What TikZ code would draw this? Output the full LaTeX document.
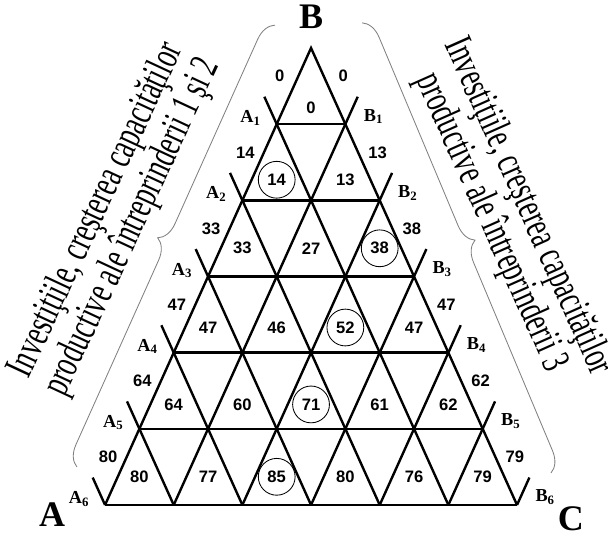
\documentclass[tikz,border=0pt]{standalone}
\usepackage{fontspec}
\setmainfont{Liberation Serif}
\newfontfamily\numfont{Liberation Sans}
\newfontfamily\narrowfont[FakeStretch=0.66]{Liberation Serif}
\usetikzlibrary{decorations.pathreplacing}

\begin{document}
\begin{tikzpicture}[x=0.8583cm, y=1.9042cm,
          gridline/.style={line width=1.7pt},
          num/.style={font=\numfont\bfseries\fontsize{11.8}{12}\selectfont, inner sep=1pt},
          ring/.style={num, draw, circle, line width=0.6pt, minimum size=0.92cm, inner sep=0pt},
          vertex/.style={font=\bfseries\fontsize{13}{14}\selectfont, inner sep=0pt},
          corner/.style={font=\bfseries\fontsize{25.6}{28}\selectfont, inner sep=0pt},
          sidetext/.style={font=\narrowfont\fontsize{29}{28.5}\selectfont, align=center, inner sep=0pt},
          bracket/.style={draw=gray, line width=0.6pt, decorate, decoration={brace, amplitude=0.5cm}}
        ]
          \useasboundingbox (-9.06,0.63) rectangle (8.65,-6.39);

          % points on the sides and on the base
          \foreach \k in {0,...,6} {
            \coordinate (A\k) at (-\k,-\k);
            \coordinate (B\k) at (\k,-\k);
            \coordinate (P\k) at (2*\k-6,-6);
            \coordinate (Q\k) at (6-2*\k,-6);
          }

          % triangle grid
          \draw[gridline] (A6) -- (A0) -- (B6);
          \foreach \k in {1,...,6} {
            \coordinate (tA\k) at (-\k-0.36,-\k+0.36);
            \coordinate (tB\k) at (\k+0.36,-\k+0.36);
            \draw[gridline] (A\k) -- (B\k);
            \draw[gridline] (tA\k) -- (Q\k);
            \draw[gridline] (tB\k) -- (P\k);
            \node[vertex] (lA\k) at (-\k-0.76,-\k+0.08) {A\textsubscript{\k}};
            \node[vertex] (lB\k) at (\k+0.82,-\k+0.1) {B\textsubscript{\k}};
          }

          \node[corner] (labelA) at (-7.54,-6.13) {A};
          \node[corner] (labelB) at (0,0.41) {B};
          \node[corner] (labelC) at (7.57,-6.18) {C};

          % values along the sides
          \foreach \v [count=\k] in {0,14,33,47,64,80}
            \node[num] (sA\k) at (-\k+0.09,-\k+0.63) {\v};
          \foreach \v [count=\k] in {0,13,38,47,62,79}
            \node[num] (sB\k) at (\k-0.06,-\k+0.63) {\v};

          % values inside the triangles
          \node[num] (c10) at (0,-0.78) {0};
          \foreach \v/\s [count=\j from 0] in {14/ring,13/num}
            \node[\s] (c2\j) at (2*\j-1,-1.73) {\v};
          \foreach \v/\s [count=\j from 0] in {33/num,27/num,38/ring}
            \node[\s] (c3\j) at (2*\j-2,-2.63) {\v};
          \foreach \v/\s [count=\j from 0] in {47/num,46/num,52/ring,47/num}
            \node[\s] (c4\j) at (2*\j-3,-3.67) {\v};
          \foreach \v/\s [count=\j from 0] in {64/num,60/num,71/ring,61/num,62/num}
            \node[\s] (c5\j) at (2*\j-4,-4.68) {\v};
          \foreach \v/\s [count=\j from 0] in {80/num,77/num,85/ring,80/num,76/num,79/num}
            \node[\s] (c6\j) at (2*\j-5,-5.63) {\v};

          % braces with the captions
          \coordinate (bl1) at (-6.82,-5.50);
          \coordinate (bl2) at (-1.05,0.30);
          \coordinate (br1) at (1.49,0.33);
          \coordinate (br2) at (6.99,-5.58);
          \draw[bracket] (bl1) -- (bl2);
          \draw[bracket] (br1) -- (br2);
          \node[sidetext, rotate=65] (textL) at (-5.71,-2.24)
            {Investiţiile, creşterea capacităţilor\\productive ale întreprinderii 1 şi 2};
          \node[sidetext, rotate=-66] (textR) at (5.77,-2.19)
            {Investiţiile, creşterea capacităţilor\\productive ale întreprinderii 3};

        \end{tikzpicture}
\end{document}
